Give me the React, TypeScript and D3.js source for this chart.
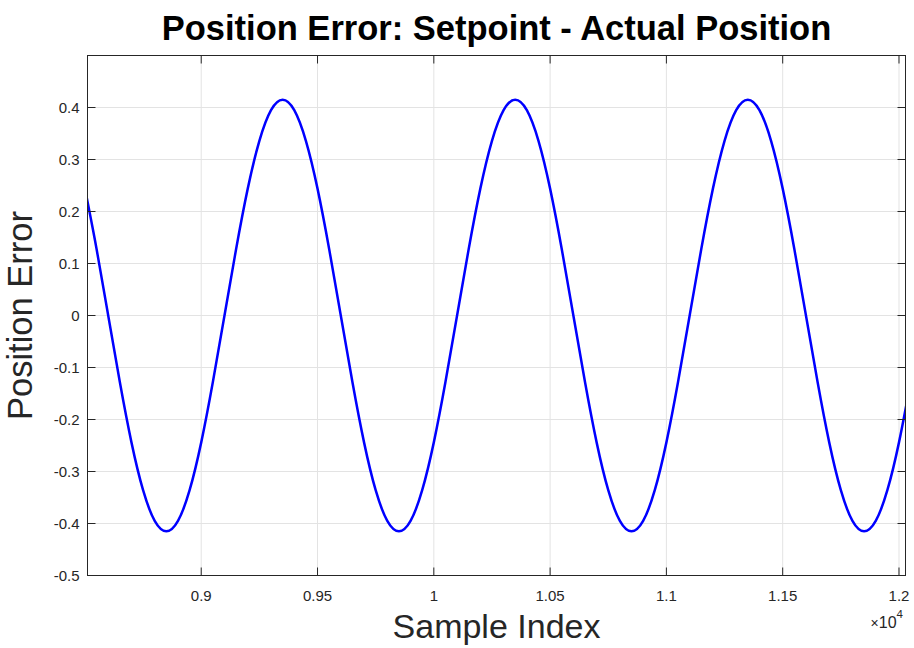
import React from "react";
import * as d3 from "d3";

// Sample indices (every 50 samples) and the measured position error at each
const sampleIndex: number[] = [
  8500, 8550, 8600, 8650, 8700, 8750, 8800, 8850, 8900, 8950,
  9000, 9050, 9100, 9150, 9200, 9250, 9300, 9350, 9400, 9450,
  9500, 9550, 9600, 9650, 9700, 9750, 9800, 9850, 9900, 9950,
  10000, 10050, 10100, 10150, 10200, 10250, 10300, 10350, 10400, 10450,
  10500, 10550, 10600, 10650, 10700, 10750, 10800, 10850, 10900, 10950,
  11000, 11050, 11100, 11150, 11200, 11250, 11300, 11350, 11400, 11450,
  11500, 11550, 11600, 11650, 11700, 11750, 11800, 11850, 11900, 11950,
  12000, 12050,
];

const positionError: number[] = [
  0.244, 0.128, 0.0, -0.128, -0.244, -0.336, -0.395, -0.415, -0.395, -0.336,
  -0.244, -0.128, 0.0, 0.128, 0.244, 0.336, 0.395, 0.415, 0.395, 0.336,
  0.244, 0.128, 0.0, -0.128, -0.244, -0.336, -0.395, -0.415, -0.395, -0.336,
  -0.244, -0.128, 0.0, 0.128, 0.244, 0.336, 0.395, 0.415, 0.395, 0.336,
  0.244, 0.128, 0.0, -0.128, -0.244, -0.336, -0.395, -0.415, -0.395, -0.336,
  -0.244, -0.128, 0.0, 0.128, 0.244, 0.336, 0.395, 0.415, 0.395, 0.336,
  0.244, 0.128, 0.0, -0.128, -0.244, -0.336, -0.395, -0.415, -0.395, -0.336,
  -0.244, -0.128,
];

const xTicks: number[] = [9000, 9500, 10000, 10500, 11000, 11500, 12000];
const xTickLabels: string[] = ["0.9", "0.95", "1", "1.05", "1.1", "1.15", "1.2"];
const yTicks: number[] = [-0.5, -0.4, -0.3, -0.2, -0.1, 0, 0.1, 0.2, 0.3, 0.4];
const yTickLabels: string[] = ["-0.5", "-0.4", "-0.3", "-0.2", "-0.1", "0", "0.1", "0.2", "0.3", "0.4"];

const W = 914;
const H = 648;
const left = 87.5;
const right = 905.5;
const top = 55.5;
const bottom = 575.5;
const FONT = "'Liberation Sans', Arial, Helvetica, sans-serif";
const AXIS = "#262626";
const GRID = "#e3e3e3";
const TICK = 8;

export default function App() {
  const x = d3.scaleLinear().domain([8511, 12028]).range([left, right]);
  const y = d3.scaleLinear().domain([-0.5, 0.5]).range([bottom, top]);

  const pts: [number, number][] = sampleIndex.map((s, i) => [s, positionError[i]]);
  const line = d3
    .line<[number, number]>()
    .x((d) => x(d[0]))
    .y((d) => y(d[1]))
    .curve(d3.curveNatural);

  const cx = (left + right) / 2;
  const cy = (top + bottom) / 2;

  return (
    <svg
      width={W}
      height={H}
      style={{ position: "absolute", left: 0, top: 0, background: "#fff" }}
      fontFamily={FONT}
    >
      <defs>
        <clipPath id="plot-area">
          <rect x={left} y={top} width={right - left} height={bottom - top} />
        </clipPath>
      </defs>
      <rect x={0} y={0} width={W} height={H} fill="#fff" />

      {/* grid */}
      {xTicks.map((t) => (
        <line key={"gx" + t} x1={x(t)} x2={x(t)} y1={top} y2={bottom} stroke={GRID} strokeWidth={1} />
      ))}
      {yTicks.map((t) => (
        <line key={"gy" + t} x1={left} x2={right} y1={y(t)} y2={y(t)} stroke={GRID} strokeWidth={1} />
      ))}

      {/* data */}
      <path
        d={line(pts) || ""}
        fill="none"
        stroke="#0000ff"
        strokeWidth={2.5}
        strokeLinejoin="round"
        clipPath="url(#plot-area)"
      />

      {/* box */}
      <rect x={left} y={top} width={right - left} height={bottom - top} fill="none" stroke={AXIS} strokeWidth={1} />

      {/* ticks */}
      {xTicks.map((t) => (
        <g key={"tx" + t}>
          <line x1={x(t)} x2={x(t)} y1={bottom} y2={bottom - TICK} stroke={AXIS} />
          <line x1={x(t)} x2={x(t)} y1={top} y2={top + TICK} stroke={AXIS} />
        </g>
      ))}
      {yTicks.map((t) => (
        <g key={"ty" + t}>
          <line x1={left} x2={left + TICK} y1={y(t)} y2={y(t)} stroke={AXIS} />
          <line x1={right} x2={right - TICK} y1={y(t)} y2={y(t)} stroke={AXIS} />
        </g>
      ))}

      {/* tick labels */}
      {xTicks.map((t, i) => (
        <text key={"lx" + t} x={x(t)} y={601} textAnchor="middle" fontSize={15} fill={AXIS}>
          {xTickLabels[i]}
        </text>
      ))}
      {yTicks.map((t, i) => (
        <text
          key={"ly" + t}
          x={left - 8}
          y={y(t)}
          dy="0.35em"
          textAnchor="end"
          fontSize={15}
          fill={AXIS}
        >
          {yTickLabels[i]}
        </text>
      ))}

      {/* exponent */}
      <text x={903} y={628} textAnchor="end" fill={AXIS}>
        <tspan fontSize={14}>×</tspan>
        <tspan fontSize={16}>10</tspan>
        <tspan fontSize={11.5} dy={-10}>4</tspan>
      </text>

      {/* labels */}
      <text x={cx} y={638} textAnchor="middle" fontSize={34} fill={AXIS}>
        Sample Index
      </text>
      <text
        transform={`translate(${31.5},${cy}) rotate(-90)`}
        textAnchor="middle"
        fontSize={34.5}
        fill={AXIS}
      >
        Position Error
      </text>
      <text x={cx} y={39.5} textAnchor="middle" fontSize={34.5} fontWeight="bold" fill="#000">
        Position Error: Setpoint - Actual Position
      </text>
    </svg>
  );
}
